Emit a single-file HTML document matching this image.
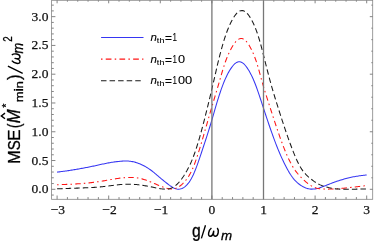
<!DOCTYPE html>
<html><head><meta charset="utf-8"><style>
html,body{margin:0;padding:0;background:#fff;}
svg{display:block;will-change:transform;opacity:0.9999}
.tk text{font-family:"Liberation Serif",serif;font-size:13.5px;fill:#111;stroke:#111;stroke-width:0.25px}
.sans{font-family:"Liberation Sans",sans-serif;fill:#000;stroke:#000;stroke-width:0.3px}
</style></head><body>
<svg width="374" height="241" viewBox="0 0 374 241">
<rect width="374" height="241" fill="#fff"/>
<g fill="none" stroke-width="1.05">
<path d="M57.10 172.11 L58.13 171.98 L59.16 171.86 L60.20 171.73 L61.23 171.60 L62.26 171.47 L63.29 171.33 L64.32 171.20 L65.36 171.06 L66.39 170.92 L67.42 170.77 L68.45 170.62 L69.48 170.46 L70.52 170.31 L71.55 170.14 L72.58 169.98 L73.61 169.81 L74.64 169.64 L75.68 169.46 L76.71 169.29 L77.74 169.11 L78.77 168.93 L79.80 168.75 L80.84 168.56 L81.87 168.37 L82.90 168.18 L83.93 167.99 L84.96 167.80 L86.00 167.60 L87.03 167.40 L88.06 167.19 L89.09 166.98 L90.12 166.77 L91.16 166.55 L92.19 166.34 L93.22 166.12 L94.25 165.90 L95.28 165.67 L96.32 165.45 L97.35 165.22 L98.38 165.00 L99.41 164.77 L100.44 164.55 L101.48 164.33 L102.51 164.11 L103.54 163.89 L104.57 163.68 L105.60 163.47 L106.64 163.26 L107.67 163.06 L108.70 162.87 L109.73 162.69 L110.76 162.51 L111.80 162.34 L112.83 162.18 L113.86 162.03 L114.89 161.89 L115.92 161.75 L116.96 161.62 L117.99 161.51 L119.02 161.40 L120.05 161.30 L121.08 161.21 L122.12 161.14 L123.15 161.08 L124.18 161.04 L125.21 161.02 L126.24 161.02 L127.28 161.05 L128.31 161.10 L129.34 161.19 L130.37 161.30 L131.40 161.44 L132.44 161.62 L133.47 161.84 L134.50 162.09 L135.53 162.37 L136.56 162.69 L137.60 163.05 L138.63 163.43 L139.66 163.84 L140.69 164.28 L141.72 164.74 L142.76 165.24 L143.79 165.76 L144.82 166.31 L145.85 166.89 L146.88 167.51 L147.92 168.15 L148.95 168.83 L149.98 169.54 L151.01 170.28 L152.04 171.04 L153.08 171.85 L154.11 172.68 L155.14 173.53 L156.17 174.41 L157.20 175.29 L158.24 176.18 L159.27 177.07 L160.30 177.95 L161.33 178.82 L162.36 179.67 L163.40 180.51 L164.43 181.34 L165.46 182.16 L166.49 182.97 L167.52 183.77 L168.56 184.56 L169.59 185.33 L170.62 186.06 L171.65 186.75 L172.68 187.38 L173.72 187.94 L174.75 188.40 L175.78 188.77 L176.81 189.02 L177.84 189.16 L178.88 189.17 L179.91 189.06 L180.94 188.83 L181.97 188.47 L183.00 187.98 L184.04 187.35 L185.07 186.60 L186.10 185.70 L187.13 184.66 L188.16 183.46 L189.20 182.09 L190.23 180.54 L191.26 178.78 L192.29 176.82 L193.32 174.66 L194.36 172.31 L195.39 169.80 L196.42 167.13 L197.45 164.33 L198.48 161.42 L199.52 158.42 L200.55 155.36 L201.58 152.26 L202.61 149.14 L203.64 146.03 L204.68 142.90 L205.71 139.75 L206.74 136.57 L207.77 133.35 L208.80 130.08 L209.84 126.76 L210.87 123.37 L211.90 119.90 L212.93 116.37 L213.96 112.79 L215.00 109.21 L216.03 105.67 L217.06 102.21 L218.09 98.85 L219.12 95.60 L220.16 92.46 L221.19 89.45 L222.22 86.58 L223.25 83.86 L224.28 81.30 L225.32 78.90 L226.35 76.66 L227.38 74.57 L228.41 72.62 L229.44 70.81 L230.48 69.14 L231.51 67.60 L232.54 66.21 L233.57 64.99 L234.60 63.94 L235.64 63.07 L236.67 62.41 L237.70 61.95 L238.73 61.72 L239.76 61.72 L240.80 61.96 L241.83 62.41 L242.86 63.08 L243.89 63.95 L244.92 65.00 L245.96 66.22 L246.99 67.61 L248.02 69.16 L249.05 70.84 L250.08 72.67 L251.12 74.63 L252.15 76.75 L253.18 79.01 L254.21 81.43 L255.24 84.00 L256.28 86.73 L257.31 89.59 L258.34 92.56 L259.37 95.61 L260.40 98.73 L261.44 101.88 L262.47 105.05 L263.50 108.21 L264.53 111.36 L265.56 114.49 L266.60 117.60 L267.63 120.68 L268.66 123.73 L269.69 126.74 L270.72 129.72 L271.76 132.65 L272.79 135.53 L273.82 138.36 L274.85 141.13 L275.88 143.85 L276.92 146.49 L277.95 149.07 L278.98 151.57 L280.01 154.00 L281.04 156.35 L282.08 158.63 L283.11 160.84 L284.14 162.98 L285.17 165.05 L286.20 167.06 L287.24 168.99 L288.27 170.85 L289.30 172.61 L290.33 174.27 L291.36 175.82 L292.40 177.26 L293.43 178.58 L294.46 179.80 L295.49 180.91 L296.52 181.93 L297.56 182.87 L298.59 183.73 L299.62 184.51 L300.65 185.24 L301.68 185.91 L302.72 186.52 L303.75 187.07 L304.78 187.55 L305.81 187.98 L306.84 188.33 L307.88 188.62 L308.91 188.85 L309.94 189.01 L310.97 189.11 L312.00 189.13 L313.04 189.10 L314.07 189.01 L315.10 188.87 L316.13 188.68 L317.16 188.45 L318.20 188.19 L319.23 187.89 L320.26 187.56 L321.29 187.21 L322.32 186.84 L323.36 186.46 L324.39 186.06 L325.42 185.66 L326.45 185.25 L327.48 184.84 L328.52 184.43 L329.55 184.02 L330.58 183.62 L331.61 183.22 L332.64 182.83 L333.68 182.44 L334.71 182.07 L335.74 181.70 L336.77 181.34 L337.80 180.99 L338.84 180.65 L339.87 180.32 L340.90 179.99 L341.93 179.68 L342.96 179.38 L344.00 179.08 L345.03 178.79 L346.06 178.51 L347.09 178.24 L348.12 177.98 L349.16 177.73 L350.19 177.49 L351.22 177.27 L352.25 177.05 L353.28 176.85 L354.32 176.66 L355.35 176.48 L356.38 176.31 L357.41 176.15 L358.44 175.99 L359.48 175.85 L360.51 175.71 L361.54 175.57 L362.57 175.44 L363.60 175.32 L364.64 175.19 L365.67 175.07 L366.70 174.95" stroke="#3636f2"/>
<path d="M57.10 184.70 L58.13 184.67 L59.16 184.63 L60.20 184.60 L61.23 184.57 L62.26 184.53 L63.29 184.50 L64.32 184.46 L65.36 184.43 L66.39 184.39 L67.42 184.35 L68.45 184.31 L69.48 184.26 L70.52 184.22 L71.55 184.17 L72.58 184.12 L73.61 184.07 L74.64 184.01 L75.68 183.95 L76.71 183.89 L77.74 183.83 L78.77 183.76 L79.80 183.69 L80.84 183.61 L81.87 183.53 L82.90 183.45 L83.93 183.36 L84.96 183.27 L86.00 183.18 L87.03 183.08 L88.06 182.98 L89.09 182.87 L90.12 182.76 L91.16 182.64 L92.19 182.52 L93.22 182.39 L94.25 182.26 L95.28 182.12 L96.32 181.98 L97.35 181.84 L98.38 181.68 L99.41 181.53 L100.44 181.37 L101.48 181.20 L102.51 181.03 L103.54 180.86 L104.57 180.68 L105.60 180.50 L106.64 180.32 L107.67 180.14 L108.70 179.96 L109.73 179.77 L110.76 179.59 L111.80 179.41 L112.83 179.23 L113.86 179.05 L114.89 178.88 L115.92 178.72 L116.96 178.56 L117.99 178.40 L119.02 178.26 L120.05 178.12 L121.08 177.99 L122.12 177.88 L123.15 177.77 L124.18 177.68 L125.21 177.60 L126.24 177.53 L127.28 177.48 L128.31 177.44 L129.34 177.42 L130.37 177.41 L131.40 177.42 L132.44 177.46 L133.47 177.51 L134.50 177.58 L135.53 177.68 L136.56 177.80 L137.60 177.95 L138.63 178.13 L139.66 178.33 L140.69 178.56 L141.72 178.83 L142.76 179.12 L143.79 179.43 L144.82 179.76 L145.85 180.12 L146.88 180.49 L147.92 180.88 L148.95 181.28 L149.98 181.69 L151.01 182.11 L152.04 182.54 L153.08 182.97 L154.11 183.41 L155.14 183.84 L156.17 184.28 L157.20 184.72 L158.24 185.16 L159.27 185.59 L160.30 186.01 L161.33 186.42 L162.36 186.82 L163.40 187.21 L164.43 187.56 L165.46 187.89 L166.49 188.19 L167.52 188.44 L168.56 188.65 L169.59 188.82 L170.62 188.92 L171.65 188.97 L172.68 188.94 L173.72 188.82 L174.75 188.60 L175.78 188.28 L176.81 187.87 L177.84 187.36 L178.88 186.75 L179.91 186.05 L180.94 185.25 L181.97 184.36 L183.00 183.37 L184.04 182.28 L185.07 181.10 L186.10 179.82 L187.13 178.45 L188.16 176.98 L189.20 175.37 L190.23 173.61 L191.26 171.66 L192.29 169.49 L193.32 167.09 L194.36 164.48 L195.39 161.69 L196.42 158.73 L197.45 155.63 L198.48 152.42 L199.52 149.12 L200.55 145.75 L201.58 142.31 L202.61 138.83 L203.64 135.29 L204.68 131.73 L205.71 128.14 L206.74 124.54 L207.77 120.94 L208.80 117.34 L209.84 113.76 L210.87 110.20 L211.90 106.68 L212.93 103.20 L213.96 99.76 L215.00 96.34 L216.03 92.92 L217.06 89.48 L218.09 86.01 L219.12 82.48 L220.16 78.89 L221.19 75.28 L222.22 71.73 L223.25 68.29 L224.28 65.04 L225.32 62.01 L226.35 59.22 L227.38 56.63 L228.41 54.23 L229.44 51.99 L230.48 49.90 L231.51 47.95 L232.54 46.15 L233.57 44.52 L234.60 43.05 L235.64 41.77 L236.67 40.68 L237.70 39.80 L238.73 39.14 L239.76 38.71 L240.80 38.52 L241.83 38.57 L242.86 38.85 L243.89 39.37 L244.92 40.11 L245.96 41.07 L246.99 42.24 L248.02 43.61 L249.05 45.17 L250.08 46.93 L251.12 48.88 L252.15 50.99 L253.18 53.29 L254.21 55.78 L255.24 58.49 L256.28 61.44 L257.31 64.64 L258.34 68.11 L259.37 71.79 L260.40 75.58 L261.44 79.38 L262.47 83.08 L263.50 86.65 L264.53 90.09 L265.56 93.44 L266.60 96.71 L267.63 99.93 L268.66 103.11 L269.69 106.29 L270.72 109.48 L271.76 112.66 L272.79 115.84 L273.82 119.01 L274.85 122.15 L275.88 125.27 L276.92 128.36 L277.95 131.40 L278.98 134.40 L280.01 137.34 L281.04 140.23 L282.08 143.04 L283.11 145.78 L284.14 148.43 L285.17 151.00 L286.20 153.47 L287.24 155.84 L288.27 158.11 L289.30 160.27 L290.33 162.32 L291.36 164.25 L292.40 166.07 L293.43 167.77 L294.46 169.34 L295.49 170.82 L296.52 172.19 L297.56 173.48 L298.59 174.69 L299.62 175.83 L300.65 176.92 L301.68 177.96 L302.72 178.96 L303.75 179.93 L304.78 180.87 L305.81 181.79 L306.84 182.67 L307.88 183.50 L308.91 184.28 L309.94 185.00 L310.97 185.66 L312.00 186.24 L313.04 186.75 L314.07 187.20 L315.10 187.58 L316.13 187.91 L317.16 188.19 L318.20 188.42 L319.23 188.61 L320.26 188.76 L321.29 188.88 L322.32 188.98 L323.36 189.05 L324.39 189.09 L325.42 189.12 L326.45 189.14 L327.48 189.13 L328.52 189.12 L329.55 189.10 L330.58 189.07 L331.61 189.03 L332.64 188.99 L333.68 188.95 L334.71 188.90 L335.74 188.84 L336.77 188.77 L337.80 188.70 L338.84 188.62 L339.87 188.54 L340.90 188.45 L341.93 188.35 L342.96 188.25 L344.00 188.15 L345.03 188.04 L346.06 187.93 L347.09 187.82 L348.12 187.71 L349.16 187.60 L350.19 187.48 L351.22 187.37 L352.25 187.25 L353.28 187.13 L354.32 187.01 L355.35 186.90 L356.38 186.78 L357.41 186.66 L358.44 186.54 L359.48 186.43 L360.51 186.31 L361.54 186.20 L362.57 186.08 L363.60 185.96 L364.64 185.85 L365.67 185.73 L366.70 185.62" stroke="#ff1414" stroke-dasharray="1.5 3.19 5.5 3.19"/>
<path d="M57.10 188.80 L58.13 188.76 L59.16 188.73 L60.20 188.69 L61.23 188.66 L62.26 188.62 L63.29 188.59 L64.32 188.56 L65.36 188.52 L66.39 188.49 L67.42 188.45 L68.45 188.42 L69.48 188.38 L70.52 188.35 L71.55 188.31 L72.58 188.28 L73.61 188.24 L74.64 188.21 L75.68 188.18 L76.71 188.14 L77.74 188.11 L78.77 188.07 L79.80 188.04 L80.84 188.00 L81.87 187.96 L82.90 187.93 L83.93 187.89 L84.96 187.85 L86.00 187.80 L87.03 187.76 L88.06 187.71 L89.09 187.66 L90.12 187.61 L91.16 187.56 L92.19 187.50 L93.22 187.43 L94.25 187.37 L95.28 187.30 L96.32 187.22 L97.35 187.14 L98.38 187.06 L99.41 186.97 L100.44 186.87 L101.48 186.77 L102.51 186.67 L103.54 186.56 L104.57 186.45 L105.60 186.33 L106.64 186.21 L107.67 186.08 L108.70 185.95 L109.73 185.82 L110.76 185.68 L111.80 185.55 L112.83 185.41 L113.86 185.28 L114.89 185.15 L115.92 185.02 L116.96 184.90 L117.99 184.79 L119.02 184.68 L120.05 184.58 L121.08 184.50 L122.12 184.42 L123.15 184.36 L124.18 184.31 L125.21 184.27 L126.24 184.24 L127.28 184.22 L128.31 184.22 L129.34 184.22 L130.37 184.24 L131.40 184.27 L132.44 184.31 L133.47 184.37 L134.50 184.43 L135.53 184.51 L136.56 184.60 L137.60 184.70 L138.63 184.81 L139.66 184.94 L140.69 185.07 L141.72 185.22 L142.76 185.37 L143.79 185.53 L144.82 185.71 L145.85 185.89 L146.88 186.07 L147.92 186.27 L148.95 186.47 L149.98 186.67 L151.01 186.88 L152.04 187.08 L153.08 187.29 L154.11 187.50 L155.14 187.71 L156.17 187.91 L157.20 188.11 L158.24 188.30 L159.27 188.48 L160.30 188.66 L161.33 188.82 L162.36 188.95 L163.40 189.07 L164.43 189.14 L165.46 189.16 L166.49 189.14 L167.52 189.04 L168.56 188.89 L169.59 188.65 L170.62 188.34 L171.65 187.95 L172.68 187.46 L173.72 186.88 L174.75 186.20 L175.78 185.41 L176.81 184.50 L177.84 183.49 L178.88 182.38 L179.91 181.16 L180.94 179.86 L181.97 178.47 L183.00 177.00 L184.04 175.44 L185.07 173.80 L186.10 172.07 L187.13 170.26 L188.16 168.35 L189.20 166.32 L190.23 164.16 L191.26 161.86 L192.29 159.40 L193.32 156.78 L194.36 154.00 L195.39 151.06 L196.42 147.96 L197.45 144.71 L198.48 141.31 L199.52 137.78 L200.55 134.14 L201.58 130.38 L202.61 126.52 L203.64 122.58 L204.68 118.56 L205.71 114.47 L206.74 110.32 L207.77 106.13 L208.80 101.90 L209.84 97.63 L210.87 93.32 L211.90 88.95 L212.93 84.53 L213.96 80.05 L215.00 75.54 L216.03 71.03 L217.06 66.58 L218.09 62.24 L219.12 58.03 L220.16 53.98 L221.19 50.08 L222.22 46.35 L223.25 42.80 L224.28 39.44 L225.32 36.28 L226.35 33.31 L227.38 30.55 L228.41 27.96 L229.44 25.56 L230.48 23.32 L231.51 21.25 L232.54 19.33 L233.57 17.58 L234.60 16.00 L235.64 14.60 L236.67 13.39 L237.70 12.38 L238.73 11.58 L239.76 11.00 L240.80 10.64 L241.83 10.51 L242.86 10.61 L243.89 10.95 L244.92 11.50 L245.96 12.27 L246.99 13.24 L248.02 14.42 L249.05 15.79 L250.08 17.34 L251.12 19.07 L252.15 20.98 L253.18 23.05 L254.21 25.30 L255.24 27.75 L256.28 30.40 L257.31 33.27 L258.34 36.38 L259.37 39.73 L260.40 43.33 L261.44 47.13 L262.47 51.07 L263.50 55.12 L264.53 59.23 L265.56 63.36 L266.60 67.45 L267.63 71.50 L268.66 75.47 L269.69 79.36 L270.72 83.14 L271.76 86.80 L272.79 90.36 L273.82 93.84 L274.85 97.24 L275.88 100.58 L276.92 103.89 L277.95 107.16 L278.98 110.42 L280.01 113.66 L281.04 116.87 L282.08 120.05 L283.11 123.20 L284.14 126.31 L285.17 129.38 L286.20 132.41 L287.24 135.39 L288.27 138.33 L289.30 141.21 L290.33 144.03 L291.36 146.79 L292.40 149.49 L293.43 152.12 L294.46 154.67 L295.49 157.14 L296.52 159.49 L297.56 161.72 L298.59 163.81 L299.62 165.75 L300.65 167.53 L301.68 169.15 L302.72 170.64 L303.75 171.99 L304.78 173.23 L305.81 174.37 L306.84 175.42 L307.88 176.39 L308.91 177.30 L309.94 178.15 L310.97 178.98 L312.00 179.77 L313.04 180.55 L314.07 181.31 L315.10 182.03 L316.13 182.71 L317.16 183.34 L318.20 183.92 L319.23 184.43 L320.26 184.89 L321.29 185.30 L322.32 185.68 L323.36 186.03 L324.39 186.36 L325.42 186.68 L326.45 186.99 L327.48 187.29 L328.52 187.58 L329.55 187.84 L330.58 188.07 L331.61 188.28 L332.64 188.46 L333.68 188.61 L334.71 188.75 L335.74 188.86 L336.77 188.95 L337.80 189.02 L338.84 189.09 L339.87 189.13 L340.90 189.17 L341.93 189.19 L342.96 189.20 L344.00 189.20 L345.03 189.20 L346.06 189.20 L347.09 189.20 L348.12 189.20 L349.16 189.20 L350.19 189.20 L351.22 189.20 L352.25 189.19 L353.28 189.18 L354.32 189.17 L355.35 189.15 L356.38 189.14 L357.41 189.12 L358.44 189.11 L359.48 189.09 L360.51 189.08 L361.54 189.06 L362.57 189.04 L363.60 189.02 L364.64 189.01 L365.67 188.99 L366.70 188.97" stroke="#1a1a1a" stroke-dasharray="5.5 3.06"/>
</g>
<g stroke="#777" stroke-width="1.3"><line x1="211.90" y1="0.3" x2="211.90" y2="199.3"/><line x1="263.50" y1="0.3" x2="263.50" y2="199.3"/></g>
<rect x="51.6" y="0.3" width="321.09999999999997" height="199.0" fill="none" stroke="#858585" stroke-width="0.8"/>
<g stroke="#777" stroke-width="0.9"><line x1="57.10" y1="199.3" x2="57.10" y2="195.5"/><line x1="57.10" y1="0.3" x2="57.10" y2="3.3"/><line x1="67.42" y1="199.3" x2="67.42" y2="197.10000000000002"/><line x1="67.42" y1="0.3" x2="67.42" y2="1.7"/><line x1="77.74" y1="199.3" x2="77.74" y2="197.10000000000002"/><line x1="77.74" y1="0.3" x2="77.74" y2="1.7"/><line x1="88.06" y1="199.3" x2="88.06" y2="197.10000000000002"/><line x1="88.06" y1="0.3" x2="88.06" y2="1.7"/><line x1="98.38" y1="199.3" x2="98.38" y2="197.10000000000002"/><line x1="98.38" y1="0.3" x2="98.38" y2="1.7"/><line x1="108.70" y1="199.3" x2="108.70" y2="195.5"/><line x1="108.70" y1="0.3" x2="108.70" y2="3.3"/><line x1="119.02" y1="199.3" x2="119.02" y2="197.10000000000002"/><line x1="119.02" y1="0.3" x2="119.02" y2="1.7"/><line x1="129.34" y1="199.3" x2="129.34" y2="197.10000000000002"/><line x1="129.34" y1="0.3" x2="129.34" y2="1.7"/><line x1="139.66" y1="199.3" x2="139.66" y2="197.10000000000002"/><line x1="139.66" y1="0.3" x2="139.66" y2="1.7"/><line x1="149.98" y1="199.3" x2="149.98" y2="197.10000000000002"/><line x1="149.98" y1="0.3" x2="149.98" y2="1.7"/><line x1="160.30" y1="199.3" x2="160.30" y2="195.5"/><line x1="160.30" y1="0.3" x2="160.30" y2="3.3"/><line x1="170.62" y1="199.3" x2="170.62" y2="197.10000000000002"/><line x1="170.62" y1="0.3" x2="170.62" y2="1.7"/><line x1="180.94" y1="199.3" x2="180.94" y2="197.10000000000002"/><line x1="180.94" y1="0.3" x2="180.94" y2="1.7"/><line x1="191.26" y1="199.3" x2="191.26" y2="197.10000000000002"/><line x1="191.26" y1="0.3" x2="191.26" y2="1.7"/><line x1="201.58" y1="199.3" x2="201.58" y2="197.10000000000002"/><line x1="201.58" y1="0.3" x2="201.58" y2="1.7"/><line x1="211.90" y1="199.3" x2="211.90" y2="195.5"/><line x1="211.90" y1="0.3" x2="211.90" y2="3.3"/><line x1="222.22" y1="199.3" x2="222.22" y2="197.10000000000002"/><line x1="222.22" y1="0.3" x2="222.22" y2="1.7"/><line x1="232.54" y1="199.3" x2="232.54" y2="197.10000000000002"/><line x1="232.54" y1="0.3" x2="232.54" y2="1.7"/><line x1="242.86" y1="199.3" x2="242.86" y2="197.10000000000002"/><line x1="242.86" y1="0.3" x2="242.86" y2="1.7"/><line x1="253.18" y1="199.3" x2="253.18" y2="197.10000000000002"/><line x1="253.18" y1="0.3" x2="253.18" y2="1.7"/><line x1="263.50" y1="199.3" x2="263.50" y2="195.5"/><line x1="263.50" y1="0.3" x2="263.50" y2="3.3"/><line x1="273.82" y1="199.3" x2="273.82" y2="197.10000000000002"/><line x1="273.82" y1="0.3" x2="273.82" y2="1.7"/><line x1="284.14" y1="199.3" x2="284.14" y2="197.10000000000002"/><line x1="284.14" y1="0.3" x2="284.14" y2="1.7"/><line x1="294.46" y1="199.3" x2="294.46" y2="197.10000000000002"/><line x1="294.46" y1="0.3" x2="294.46" y2="1.7"/><line x1="304.78" y1="199.3" x2="304.78" y2="197.10000000000002"/><line x1="304.78" y1="0.3" x2="304.78" y2="1.7"/><line x1="315.10" y1="199.3" x2="315.10" y2="195.5"/><line x1="315.10" y1="0.3" x2="315.10" y2="3.3"/><line x1="325.42" y1="199.3" x2="325.42" y2="197.10000000000002"/><line x1="325.42" y1="0.3" x2="325.42" y2="1.7"/><line x1="335.74" y1="199.3" x2="335.74" y2="197.10000000000002"/><line x1="335.74" y1="0.3" x2="335.74" y2="1.7"/><line x1="346.06" y1="199.3" x2="346.06" y2="197.10000000000002"/><line x1="346.06" y1="0.3" x2="346.06" y2="1.7"/><line x1="356.38" y1="199.3" x2="356.38" y2="197.10000000000002"/><line x1="356.38" y1="0.3" x2="356.38" y2="1.7"/><line x1="366.70" y1="199.3" x2="366.70" y2="195.5"/><line x1="366.70" y1="0.3" x2="366.70" y2="3.3"/><line x1="51.6" y1="195.06" x2="53.800000000000004" y2="195.06"/><line x1="51.6" y1="189.30" x2="55.4" y2="189.30"/><line x1="372.7" y1="189.30" x2="369.8" y2="189.30"/><line x1="51.6" y1="183.55" x2="53.800000000000004" y2="183.55"/><line x1="51.6" y1="177.79" x2="53.800000000000004" y2="177.79"/><line x1="372.7" y1="177.79" x2="371.3" y2="177.79"/><line x1="51.6" y1="172.04" x2="53.800000000000004" y2="172.04"/><line x1="51.6" y1="166.28" x2="53.800000000000004" y2="166.28"/><line x1="372.7" y1="166.28" x2="371.3" y2="166.28"/><line x1="51.6" y1="160.53" x2="55.4" y2="160.53"/><line x1="51.6" y1="154.77" x2="53.800000000000004" y2="154.77"/><line x1="372.7" y1="154.77" x2="371.3" y2="154.77"/><line x1="51.6" y1="149.02" x2="53.800000000000004" y2="149.02"/><line x1="51.6" y1="143.26" x2="53.800000000000004" y2="143.26"/><line x1="372.7" y1="143.26" x2="371.3" y2="143.26"/><line x1="51.6" y1="137.50" x2="53.800000000000004" y2="137.50"/><line x1="51.6" y1="131.75" x2="55.4" y2="131.75"/><line x1="372.7" y1="131.75" x2="369.8" y2="131.75"/><line x1="51.6" y1="126.00" x2="53.800000000000004" y2="126.00"/><line x1="51.6" y1="120.24" x2="53.800000000000004" y2="120.24"/><line x1="372.7" y1="120.24" x2="371.3" y2="120.24"/><line x1="51.6" y1="114.49" x2="53.800000000000004" y2="114.49"/><line x1="51.6" y1="108.73" x2="53.800000000000004" y2="108.73"/><line x1="372.7" y1="108.73" x2="371.3" y2="108.73"/><line x1="51.6" y1="102.98" x2="55.4" y2="102.98"/><line x1="51.6" y1="97.22" x2="53.800000000000004" y2="97.22"/><line x1="372.7" y1="97.22" x2="371.3" y2="97.22"/><line x1="51.6" y1="91.47" x2="53.800000000000004" y2="91.47"/><line x1="51.6" y1="85.71" x2="53.800000000000004" y2="85.71"/><line x1="372.7" y1="85.71" x2="371.3" y2="85.71"/><line x1="51.6" y1="79.96" x2="53.800000000000004" y2="79.96"/><line x1="51.6" y1="74.20" x2="55.4" y2="74.20"/><line x1="372.7" y1="74.20" x2="369.8" y2="74.20"/><line x1="51.6" y1="68.45" x2="53.800000000000004" y2="68.45"/><line x1="51.6" y1="62.69" x2="53.800000000000004" y2="62.69"/><line x1="372.7" y1="62.69" x2="371.3" y2="62.69"/><line x1="51.6" y1="56.94" x2="53.800000000000004" y2="56.94"/><line x1="51.6" y1="51.18" x2="53.800000000000004" y2="51.18"/><line x1="372.7" y1="51.18" x2="371.3" y2="51.18"/><line x1="51.6" y1="45.43" x2="55.4" y2="45.43"/><line x1="51.6" y1="39.67" x2="53.800000000000004" y2="39.67"/><line x1="372.7" y1="39.67" x2="371.3" y2="39.67"/><line x1="51.6" y1="33.92" x2="53.800000000000004" y2="33.92"/><line x1="51.6" y1="28.16" x2="53.800000000000004" y2="28.16"/><line x1="372.7" y1="28.16" x2="371.3" y2="28.16"/><line x1="51.6" y1="22.41" x2="53.800000000000004" y2="22.41"/><line x1="51.6" y1="16.65" x2="55.4" y2="16.65"/><line x1="372.7" y1="16.65" x2="369.8" y2="16.65"/><line x1="51.6" y1="10.90" x2="53.800000000000004" y2="10.90"/><line x1="51.6" y1="5.14" x2="53.800000000000004" y2="5.14"/><line x1="372.7" y1="5.14" x2="371.3" y2="5.14"/></g>
<g class="tk" style="opacity:0.999"><text transform="translate(57.90,213.7) scale(1.0,1)" text-anchor="middle">−3</text><text transform="translate(109.50,213.7) scale(1.0,1)" text-anchor="middle">−2</text><text transform="translate(161.10,213.7) scale(1.0,1)" text-anchor="middle">−1</text><text transform="translate(211.90,213.7) scale(1.0,1)" text-anchor="middle">0</text><text transform="translate(263.50,213.7) scale(1.0,1)" text-anchor="middle">1</text><text transform="translate(315.10,213.7) scale(1.0,1)" text-anchor="middle">2</text><text transform="translate(366.70,213.7) scale(1.0,1)" text-anchor="middle">3</text><text transform="translate(48.4,193.35) scale(1.0,1)" text-anchor="end">0.0</text><text transform="translate(48.4,164.58) scale(1.0,1)" text-anchor="end">0.5</text><text transform="translate(48.4,135.80) scale(1.0,1)" text-anchor="end">1.0</text><text transform="translate(48.4,107.03) scale(1.0,1)" text-anchor="end">1.5</text><text transform="translate(48.4,78.25) scale(1.0,1)" text-anchor="end">2.0</text><text transform="translate(48.4,49.48) scale(1.0,1)" text-anchor="end">2.5</text><text transform="translate(48.4,20.70) scale(1.0,1)" text-anchor="end">3.0</text></g>
<!-- legend -->
<g fill="none" stroke-width="1.05">
<line x1="101.1" y1="37.4" x2="143.5" y2="37.4" stroke="#3636f2"/>
<line x1="101" y1="59.1" x2="143.4" y2="59.1" stroke="#ff1414" stroke-dasharray="1.5 3.25 5.7 3.25"/>
<line x1="101" y1="80.8" x2="143.2" y2="80.8" stroke="#1a1a1a" stroke-dasharray="5.5 3.06"/>
</g>
<g class="sans" style="stroke-width:0.1px">
<text transform="translate(150.42,41.28) scale(1.054,1)" font-size="10.90" font-style="italic">n</text><text transform="translate(156.69,43.03) scale(1.268,1)" font-size="6.99">t</text><text transform="translate(159.39,43.08) scale(1.283,1)" font-size="6.98">h</text><text transform="translate(164.93,42.03) scale(1.076,1)" font-size="11.04">=</text><text transform="translate(172.42,41.28) scale(0.747,1)" font-size="10.71">1</text><text transform="translate(150.42,62.88) scale(1.054,1)" font-size="10.90" font-style="italic">n</text><text transform="translate(156.69,64.63) scale(1.268,1)" font-size="6.99">t</text><text transform="translate(159.39,64.68) scale(1.283,1)" font-size="6.98">h</text><text transform="translate(164.93,63.63) scale(1.076,1)" font-size="11.04">=</text><text transform="translate(172.42,62.88) scale(0.747,1)" font-size="10.71">1</text><text transform="translate(178.01,62.87) scale(1.204,1)" font-size="10.54">0</text><text transform="translate(150.42,84.48) scale(1.054,1)" font-size="10.90" font-style="italic">n</text><text transform="translate(156.69,86.23) scale(1.268,1)" font-size="6.99">t</text><text transform="translate(159.39,86.28) scale(1.283,1)" font-size="6.98">h</text><text transform="translate(164.93,85.23) scale(1.076,1)" font-size="11.04">=</text><text transform="translate(172.42,84.48) scale(0.747,1)" font-size="10.71">1</text><text transform="translate(178.01,84.47) scale(1.204,1)" font-size="10.54">0</text><text transform="translate(185.00,84.47) scale(1.223,1)" font-size="10.54">0</text></g><g class="sans">
<text transform="translate(191.95,236.59) scale(0.881,1)" font-size="17.80">g</text><path d="M211.42 228.03 C209.87 229.26 208.99 231.10 208.67 232.79 C208.26 234.94 208.95 236.18 210.40 236.18 C211.72 236.18 213.01 234.94 213.71 231.25 C213.01 234.94 213.83 236.18 215.15 236.18 C216.60 236.18 217.76 234.94 218.17 232.79 C218.49 231.10 218.31 229.26 217.23 228.03" fill="none" stroke="#000" stroke-width="1.45" stroke-linecap="butt" stroke-linejoin="round"/><text transform="translate(220.99,239.78) scale(0.987,1)" font-size="13.51" font-style="italic">m</text>
<g transform="translate(19.9,163) rotate(-90)">
<text transform="translate(-0.70,-0.12) scale(0.926,1)" font-size="17.25">M</text><text transform="translate(12.64,-0.09) scale(0.869,1)" font-size="17.33">S</text><text transform="translate(21.90,-0.12) scale(1.000,1)" font-size="17.25">E</text><text transform="translate(34.90,-0.03) scale(0.738,1)" font-size="17.87">(</text><text transform="translate(39.82,-0.12) scale(0.942,1)" font-size="17.54" font-style="italic">M</text><text transform="translate(55.23,-9.89) scale(0.986,1)" font-size="10.74">*</text><text transform="translate(60.64,3.08) scale(1.200,1)" font-size="10.90">m</text><text transform="translate(71.47,3.08) scale(1.244,1)" font-size="12.50">i</text><text transform="translate(74.62,3.08) scale(1.218,1)" font-size="10.90">n</text><text transform="translate(83.09,0.08) scale(0.929,1)" font-size="18.29">)</text><path d="M102.38 -8.08 C100.86 -6.84 99.99 -5.00 99.67 -3.31 C99.26 -1.16 99.93 0.08 101.35 0.08 C102.64 0.08 103.91 -1.16 104.61 -4.85 C103.91 -1.16 104.71 0.08 106.00 0.08 C107.42 0.08 108.56 -1.16 108.97 -3.31 C109.29 -5.00 109.12 -6.84 108.07 -8.08" fill="none" stroke="#000" stroke-width="1.45" stroke-linecap="butt" stroke-linejoin="round"/><text transform="translate(109.60,3.38) scale(0.923,1)" font-size="13.88" font-style="italic">m</text><text transform="translate(121.33,-7.92) scale(0.789,1)" font-size="12.42">2</text>
</g>
<path d="M5 113.1 L1.3 115.9 L5 118.7 M22.7 73.4 L7.9 66.2 M201.4 238.4 L205.5 225.2" fill="none" stroke="#000" stroke-width="1.35"/>
</g>
</svg>
</body></html>
